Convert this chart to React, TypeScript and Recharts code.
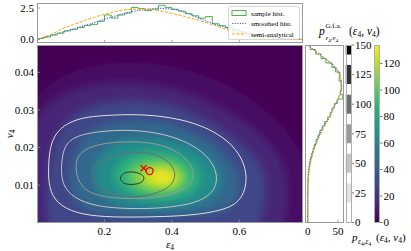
import React from "react";
import { ComposedChart, Line, Scatter, XAxis, YAxis, Curve } from "recharts";

const FONT = '"Liberation Serif", "DejaVu Serif", serif';
const TICK = "#8a8a8a";
const FRAME = "#9a9a9a";
const GREEN = "#4caf50";
const BLUE = "#4169e1";
const ORANGE = "#ffa500";

const E_MAX = 0.789;
const V_MAX = 0.0473;
const HEAT_MAX = 134;

const epsTicks = [0.2, 0.4, 0.6];
const vTicks = [0.01, 0.02, 0.03, 0.04];
const topTicks = [0, 2.5];
const rightTicks = [0, 50];
const gfaTicks = [0, 25, 50, 75, 100, 125, 150];
const heatTicks = [0, 20, 40, 60, 80, 100, 120];
const seriesNames = ["sample hist.", "smoothed hist.", "semi-analytical"];

// top marginal (eps_4)
const topHistE = [0, 0.02, 0.04, 0.06, 0.08, 0.1, 0.12, 0.14, 0.16, 0.18, 0.2, 0.22, 0.24, 0.26, 0.28, 0.3, 0.32, 0.34, 0.36, 0.38, 0.4, 0.42, 0.44, 0.46, 0.48, 0.5, 0.52, 0.54, 0.56, 0.58, 0.6, 0.62, 0.64, 0.66, 0.68, 0.7, 0.72, 0.74, 0.76, 0.78];
const topHistD = [0.08, 0.2, 0.35, 0.5, 0.68, 0.8, 0.95, 1.12, 1.2, 1.45, 1.95, 1.7, 1.95, 2.1, 2.55, 2.45, 2.3, 2.4, 2.72, 2.55, 2.4, 2.25, 2.05, 1.88, 1.7, 1.82, 1.25, 1.1, 0.95, 0.78, 0.6, 0.48, 0.35, 0.25, 0.18, 0.12, 0.08, 0.05, 0.03, 0.01];
const topCurveE = [0, 0.04, 0.08, 0.12, 0.16, 0.2, 0.24, 0.28, 0.32, 0.36, 0.4, 0.44, 0.48, 0.52, 0.56, 0.6, 0.64, 0.68, 0.72, 0.76, 0.789];
const topSmoothD = [0, 0.3, 0.62, 0.93, 1.25, 1.6, 1.92, 2.2, 2.38, 2.47, 2.42, 2.14, 1.7, 1.28, 0.95, 0.62, 0.4, 0.22, 0.09, 0.03, 0.01];
const topSemiD = [0, 0.38, 0.9, 1.3, 1.68, 2.0, 2.27, 2.4, 2.42, 2.3, 2.08, 1.82, 1.52, 1.18, 0.82, 0.47, 0.2, 0.05, 0.01, 0, 0];

// right marginal (v_4)
const rightHistV = [0, 0.0012, 0.0024, 0.0036, 0.0048, 0.006, 0.0072, 0.0084, 0.0096, 0.0108, 0.012, 0.0132, 0.0144, 0.0156, 0.0168, 0.018, 0.0192, 0.0204, 0.0216, 0.0228, 0.024, 0.0252, 0.0264, 0.0276, 0.0288, 0.03, 0.0312, 0.0324, 0.0336, 0.0348, 0.036, 0.0372, 0.0384, 0.0396, 0.0408, 0.042, 0.0432, 0.0444, 0.0456];
const rightHistD = [4, 13, 22, 30, 40, 46, 53, 52, 55, 56, 54, 58, 49, 44, 40, 37, 33, 28, 24, 20, 17, 14, 11, 9, 7, 5, 3.5, 2.5, 1.5, 1, 0.5, 0.3, 0.2, 0.1, 0.1, 0, 0, 0, 0];
const rightCurveV = [0, 0.001, 0.002, 0.003, 0.004, 0.005, 0.006, 0.007, 0.008, 0.009, 0.01, 0.011, 0.012, 0.013, 0.014, 0.015, 0.016, 0.017, 0.018, 0.019, 0.02, 0.021, 0.022, 0.023, 0.024, 0.025, 0.026, 0.027, 0.028, 0.03, 0.032, 0.034, 0.036, 0.04, 0.0473];
const rightSmoothD = [0, 8, 16, 24, 32, 40, 46, 50.5, 53, 54.5, 55.5, 56, 55.5, 54, 51.5, 48.5, 45, 42, 39.5, 37, 33, 29, 25, 22, 19, 16, 14, 11.5, 9, 5, 2.5, 1, 0.3, 0, 0];
const rightSemiD = [0, 7, 15, 23, 31, 38, 44, 49, 52.5, 54.5, 55.3, 55.3, 54.5, 53, 50.8, 48, 45, 42, 39, 36, 33, 30, 26.5, 23.5, 20.5, 17.5, 15, 12.5, 10.2, 6.5, 3.8, 2, 0.9, 0.1, 0];

// sample density: iso-density outlines, [eps, v]
const heatLevels = [6, 15, 28, 45, 65, 85, 105, 120, 132];
const heatShapes = [
  [[-0.05, 0.012], [-0.04, 0.032], [0.1, 0.0415], [0.3, 0.0435], [0.5, 0.04], [0.66, 0.032], [0.77, 0.022], [0.83, 0.01], [0.83, -0.01], [0.4, -0.012], [-0.05, -0.01]],
  [[-0.03, 0.012], [-0.02, 0.026], [0.05, 0.034], [0.18, 0.0375], [0.33, 0.0375], [0.48, 0.034], [0.62, 0.027], [0.72, 0.019], [0.75, 0.01], [0.74, 0.0], [0.7, -0.008], [0.3, -0.01], [-0.03, -0.008]],
  [[0.03, 0.012], [0.045, 0.022], [0.1, 0.029], [0.2, 0.0325], [0.33, 0.033], [0.47, 0.0295], [0.58, 0.023], [0.66, 0.017], [0.685, 0.01], [0.67, 0.002], [0.64, -0.006], [0.3, -0.008], [0.04, -0.006], [0.025, 0.004]],
  [[0.09, 0.012], [0.11, 0.02], [0.16, 0.025], [0.25, 0.0275], [0.36, 0.0275], [0.47, 0.0245], [0.56, 0.019], [0.61, 0.012], [0.6, 0.006], [0.55, 0.0025], [0.45, 0.0015], [0.3, 0.0013], [0.17, 0.002], [0.11, 0.005]],
  [[0.16, 0.012], [0.18, 0.018], [0.23, 0.0215], [0.31, 0.0228], [0.4, 0.0222], [0.48, 0.0195], [0.535, 0.0155], [0.55, 0.011], [0.525, 0.0065], [0.46, 0.004], [0.36, 0.0036], [0.26, 0.004], [0.19, 0.0065]],
  [[0.22, 0.012], [0.24, 0.016], [0.29, 0.0188], [0.36, 0.0193], [0.43, 0.0178], [0.475, 0.015], [0.49, 0.0115], [0.47, 0.008], [0.41, 0.006], [0.33, 0.0058], [0.26, 0.0075]],
  [[0.26, 0.012], [0.28, 0.015], [0.33, 0.0168], [0.39, 0.0167], [0.435, 0.0148], [0.45, 0.0118], [0.43, 0.0088], [0.37, 0.0077], [0.3, 0.0085]],
  [[0.3, 0.012], [0.32, 0.0142], [0.36, 0.0151], [0.405, 0.0143], [0.43, 0.0122], [0.415, 0.0098], [0.37, 0.0092], [0.32, 0.0098]],
  [[0.33, 0.012], [0.35, 0.0136], [0.38, 0.014], [0.405, 0.0128], [0.41, 0.0112], [0.38, 0.0103], [0.35, 0.0105]],
];

// G.f.a. contour lines
const gfaShapes = [
  [[0.034, 0.0105], [0.034, 0.0149], [0.037, 0.019], [0.049, 0.0229], [0.079, 0.026], [0.128, 0.0278], [0.177, 0.0284], [0.276, 0.0289], [0.375, 0.0284], [0.474, 0.0265], [0.553, 0.0229], [0.602, 0.0184], [0.624, 0.0131], [0.617, 0.0078], [0.582, 0.0038], [0.474, 0.002], [0.375, 0.00155], [0.276, 0.0014], [0.177, 0.00155], [0.098, 0.0029], [0.049, 0.006]],
  [[0.071, 0.014], [0.076, 0.0185], [0.089, 0.0214], [0.128, 0.0236], [0.227, 0.0247], [0.326, 0.0245], [0.424, 0.0225], [0.503, 0.0184], [0.538, 0.0131], [0.528, 0.0082], [0.474, 0.0051], [0.375, 0.0038], [0.276, 0.0036], [0.177, 0.0042], [0.108, 0.0065], [0.076, 0.01]],
  [[0.113, 0.014], [0.118, 0.0176], [0.15, 0.02], [0.2, 0.0211], [0.256, 0.0216], [0.335, 0.0214], [0.404, 0.0198], [0.454, 0.0162], [0.469, 0.0127], [0.449, 0.0091], [0.375, 0.0067], [0.276, 0.0062], [0.177, 0.0069], [0.128, 0.0095]],
  [[0.163, 0.0131], [0.172, 0.0158], [0.227, 0.018], [0.286, 0.0189], [0.345, 0.0185], [0.395, 0.0162], [0.415, 0.0127], [0.395, 0.0091], [0.326, 0.0069], [0.256, 0.0067], [0.192, 0.0087], [0.167, 0.0109]],
  [[0.246, 0.0122], [0.258, 0.0133], [0.281, 0.0136], [0.308, 0.0131], [0.32, 0.012], [0.313, 0.0107], [0.291, 0.0101], [0.264, 0.0101], [0.249, 0.0109]],
];
// colorbar of the contour levels: level, band half-width
const gfaBandLevels = [0, 25, 50, 75, 100, 125, 150];
const gfaBandHalf = 8;
const grays = ["#ffffff", "#e2e2e2", "#c4c4c4", "#9a9a9a", "#6e6e6e", "#333333", "#000000"];

const crossPt = [{ x: 0.316, y: 0.01445 }];
const circlePt = [{ x: 0.334, y: 0.0137 }];

const VIRIDIS = ["#440154", "#482475", "#414487", "#355f8d", "#2a788e", "#21918c", "#22a884", "#44bf70", "#7ad151", "#bddf26", "#fde725"];
function viridis(t: number) {
  const c = Math.max(0, Math.min(1, t)) * 10;
  const i = Math.min(9, Math.floor(c));
  const f = c - i;
  const a = VIRIDIS[i], b = VIRIDIS[i + 1];
  const ch = (s: string, k: number) => parseInt(s.slice(1 + 2 * k, 3 + 2 * k), 16);
  const out = [0, 1, 2].map((k) => Math.round(ch(a, k) + (ch(b, k) - ch(a, k)) * f).toString(16).padStart(2, "0"));
  return "#" + out.join("");
}

const pairs = (p: number[][]) => p.map(([x, y]) => ({ x, y }));
const band = (lo: number, hi: number) => [{ x: 0, y: lo }, { x: 1, y: lo }, { x: 1, y: hi }, { x: 0, y: hi }];
const topHist = [{ e: 0, d: 0 }, ...topHistE.map((e, i) => ({ e, d: topHistD[i] })), { e: E_MAX, d: topHistD[topHistD.length - 1] }, { e: E_MAX, d: 0 }];
const topSmooth = topCurveE.map((e, i) => ({ e, d: topSmoothD[i] }));
const topSemi = topCurveE.map((e, i) => ({ e, d: topSemiD[i] }));
const rightHist = [{ v: 0, d: 0 }, ...rightHistV.map((v, i) => ({ v, d: rightHistD[i] })), { v: 0.0468, d: 0 }];
const rightSmooth = rightCurveV.map((v, i) => ({ v, d: rightSmoothD[i] }));
const rightSemi = rightCurveV.map((v, i) => ({ v, d: rightSemiD[i] }));

const Blank = () => <g />;

const BottomTick = (p: any) => (
  <g>
    <line x1={p.x} y1={p.y} x2={p.x} y2={p.y - 3} stroke={TICK} strokeWidth={0.8} />
    {p.fmt && (
      <text x={p.x} y={p.y + 12} textAnchor="middle" fontSize={11} fontFamily={FONT} fill="#000">
        {p.fmt(p.payload.value)}
      </text>
    )}
  </g>
);
const LeftTick = (p: any) => (
  <g>
    <line x1={p.x} y1={p.y} x2={p.x + 3} y2={p.y} stroke={TICK} strokeWidth={0.8} />
    {p.fmt && (
      <text x={p.x - 3} y={p.y} dy="0.35em" textAnchor="end" fontSize={11} fontFamily={FONT} fill="#000">
        {p.fmt(p.payload.value)}
      </text>
    )}
  </g>
);
const RightTick = (p: any) => (
  <g>
    <line x1={p.x} y1={p.y} x2={p.x + 2.5} y2={p.y} stroke="#555" strokeWidth={0.8} />
    <text x={p.x + 3.5} y={p.y} dy="0.35em" textAnchor="start" fontSize={11} fontFamily={FONT} fill="#000">
      {p.payload.value}
    </text>
  </g>
);

const box = (left: number, top: number, width: number, height: number, color = FRAME): React.CSSProperties => ({
  position: "absolute", left, top, width, height, border: `1px solid ${color}`, boxSizing: "border-box", pointerEvents: "none",
});

const Sub = ({ children, size = 7.5 }: any) => <tspan fontSize={size} fontStyle="normal" dy={2.2}>{children}</tspan>;

const Colorbar = ({ left, width, marginLeft, max, ticks, children }: any) => (
  <div style={{ position: "absolute", left, top: 0 }}>
    <ComposedChart width={width} height={251} margin={{ top: 45, right: width - marginLeft - 6 - 20, bottom: 28.5, left: marginLeft }}>
      <XAxis type="number" dataKey="x" domain={[0, 1]} allowDataOverflow hide />
      <YAxis type="number" dataKey="y" orientation="right" domain={[0, max]} allowDataOverflow ticks={ticks} interval={0} width={20} tickSize={0} tickMargin={0} axisLine={false}
        tick={(p: any) => <RightTick {...p} />} />
      {children}
    </ComposedChart>
  </div>
);

export default function App() {
  return (
    <div style={{ position: "fixed", left: 0, top: 0, width: 411, height: 251, background: "#fff", fontFamily: FONT, overflow: "hidden" }}>
      <svg width={0} height={0} style={{ position: "absolute" }}>
        <defs>
          <filter id="heatBlur" filterUnits="userSpaceOnUse" x={-100} y={-100} width={600} height={500}>
            <feGaussianBlur stdDeviation={4} />
          </filter>
          <linearGradient id="viridisGrad" x1="0" y1="1" x2="0" y2="0">
            {VIRIDIS.map((c, i) => <stop key={i} offset={`${i * 10}%`} stopColor={c} />)}
          </linearGradient>
        </defs>
      </svg>

      <div style={{ position: "absolute", left: 37, top: 45, width: 266, height: 177.5, background: VIRIDIS[0] }} />

      {/* main joint density */}
      <div style={{ position: "absolute", left: 0, top: 0 }}>
        <ComposedChart width={311} height={251} margin={{ top: 45, right: 8, bottom: 8.5, left: 7 }}>
          <XAxis type="number" dataKey="x" domain={[0, E_MAX]} allowDataOverflow ticks={epsTicks} interval={0} height={20} tickSize={0} tickMargin={0} axisLine={false}
            tick={(p: any) => <BottomTick {...p} fmt={(v: number) => v.toFixed(1)} />} />
          <YAxis type="number" dataKey="y" domain={[0, V_MAX]} allowDataOverflow ticks={vTicks} interval={0} width={30} tickSize={0} tickMargin={0} axisLine={false}
            tick={(p: any) => <LeftTick {...p} fmt={(v: number) => v.toFixed(2)} />} />
          {heatShapes.map((s, i) => (
            <Scatter key={"h" + i} data={pairs(s)} shape={Blank} isAnimationActive={false}
              line={(lp: any) => (
                <g filter="url(#heatBlur)">
                  <Curve points={lp.points} type="basisClosed" fill={viridis(heatLevels[i] / HEAT_MAX)} stroke="none" />
                </g>
              )} />
          ))}
          {gfaShapes.map((s, i) => (
            <Scatter key={"c" + i} data={pairs(s)} shape={Blank} isAnimationActive={false}
              line={(lp: any) => <Curve points={lp.points} type="basisClosed" fill="none" stroke={grays[i + 1]} strokeWidth={1} />} />
          ))}
          <Scatter data={crossPt} isAnimationActive={false}
            shape={(p: any) => (
              <g stroke="#ff0000" strokeWidth={1.4}>
                <line x1={p.cx - 3} y1={p.cy - 3} x2={p.cx + 3} y2={p.cy + 3} />
                <line x1={p.cx - 3} y1={p.cy + 3} x2={p.cx + 3} y2={p.cy - 3} />
              </g>
            )} />
          <Scatter data={circlePt} isAnimationActive={false}
            shape={(p: any) => <circle cx={p.cx} cy={p.cy} r={3.5} fill="none" stroke="#ff0000" strokeWidth={1.4} />} />
        </ComposedChart>
      </div>

      {/* top marginal */}
      <div style={{ position: "absolute", left: 0, top: 0 }}>
        <ComposedChart width={311} height={51} margin={{ top: 3, right: 8, bottom: 0, left: 7 }}>
          <XAxis type="number" dataKey="e" domain={[0, E_MAX]} allowDataOverflow ticks={epsTicks} interval={0} height={8} tickSize={0} tickMargin={0} axisLine={false}
            tick={(p: any) => <BottomTick {...p} />} />
          <YAxis type="number" domain={[-0.28, 2.9]} allowDataOverflow ticks={topTicks} interval={0} width={30} tickSize={0} tickMargin={0} axisLine={false}
            tick={(p: any) => <LeftTick {...p} fmt={(v: number) => v.toFixed(1)} />} />
          <Line data={topHist} dataKey="d" type="stepAfter" stroke={GREEN} strokeWidth={1} dot={false} isAnimationActive={false} />
          <Line data={topSmooth} dataKey="d" type="monotone" stroke={BLUE} strokeWidth={1.2} strokeDasharray="1.2 1.4" dot={false} isAnimationActive={false} />
          <Line data={topSemi} dataKey="d" type="monotone" stroke={ORANGE} strokeWidth={1} strokeDasharray="3 1.6" dot={false} isAnimationActive={false} />
        </ComposedChart>
      </div>

      {/* right marginal */}
      <div style={{ position: "absolute", left: 300, top: 0 }}>
        <ComposedChart layout="vertical" width={50} height={251} margin={{ top: 45, right: 6, bottom: 8.5, left: 5 }}>
          <XAxis type="number" domain={[-4.5, 60]} allowDataOverflow ticks={rightTicks} interval={0} height={20} tickSize={0} tickMargin={0} axisLine={false}
            tick={(p: any) => <BottomTick {...p} fmt={(v: number) => String(v)} />} />
          <YAxis type="number" dataKey="v" domain={[0, V_MAX]} allowDataOverflow ticks={vTicks} interval={0} width={0} tickSize={0} tickMargin={0} axisLine={false}
            tick={(p: any) => <LeftTick {...p} />} />
          <Line data={rightHist} dataKey="d" type="stepBefore" stroke={GREEN} strokeWidth={1} dot={false} isAnimationActive={false} />
          <Line data={rightSmooth} dataKey="d" type="monotone" stroke={BLUE} strokeWidth={1.2} strokeDasharray="1.2 1.4" dot={false} isAnimationActive={false} />
          <Line data={rightSemi} dataKey="d" type="monotone" stroke={ORANGE} strokeWidth={1} strokeDasharray="3 1.6" dot={false} isAnimationActive={false} />
        </ComposedChart>
      </div>

      {/* G.f.a. colorbar */}
      <Colorbar left={340} width={45.5} marginLeft={5.5} max={150} ticks={gfaTicks}>
        {gfaBandLevels.map((l, i) => (
          <Scatter key={l} data={band(Math.max(0, l - gfaBandHalf), Math.min(150, l + gfaBandHalf))} shape={Blank} isAnimationActive={false}
            line={(lp: any) => <Curve points={lp.points} type="linearClosed" fill={grays[i]} stroke="none" />} />
        ))}
      </Colorbar>

      {/* density colorbar */}
      <Colorbar left={368} width={43} marginLeft={6} max={HEAT_MAX} ticks={heatTicks}>
        <Scatter data={band(0, HEAT_MAX)} shape={Blank} isAnimationActive={false}
          line={(lp: any) => <Curve points={lp.points} type="linearClosed" fill="url(#viridisGrad)" stroke="none" />} />
      </Colorbar>

      {/* frames */}
      <div style={box(37, 3, 266, 40)} />
      <div style={box(37, 45, 266, 177.5)} />
      <div style={box(305, 45, 39, 177.5)} />
      <div style={box(345.5, 45, 6, 177.5, "#b0b0b0")} />
      <div style={box(374, 45, 6, 177.5, "#b0b0b0")} />

      {/* legend + labels */}
      <svg width={411} height={251} style={{ position: "absolute", left: 0, top: 0, pointerEvents: "none" }} fontFamily={FONT}>
        <rect x={228.5} y={6.5} width={71} height={33} rx={2} fill="#fff" fillOpacity={0.8} stroke="#cccccc" strokeWidth={0.8} />
        {seriesNames.map((n, i) => {
          const y = 13 + i * 10.5;
          return (
            <g key={n}>
              {i === 0 && <rect x={232} y={y - 2.5} width={14} height={5} fill="none" stroke={GREEN} strokeWidth={1} />}
              {i === 1 && <line x1={232} y1={y} x2={246} y2={y} stroke={BLUE} strokeWidth={1.2} strokeDasharray="1.2 1.4" />}
              {i === 2 && <line x1={232} y1={y} x2={246} y2={y} stroke={ORANGE} strokeWidth={1} strokeDasharray="3 1.6" />}
              <text x={251} y={y + 2.5} fontSize={7} fill="#000">{n}</text>
            </g>
          );
        })}

        <text x={170} y={248} textAnchor="middle" fontSize={11} fontStyle="italic">ε<Sub>4</Sub></text>
        <text transform="translate(13,134) rotate(-90)" textAnchor="middle" fontSize={11} fontStyle="italic">v<Sub>4</Sub></text>

        <text x={319} y={35} fontSize={11.5} fontStyle="italic">p</text>
        <text x={325.5} y={28} fontSize={7}>G.f.a.</text>
        <text x={325.5} y={39.5} fontSize={7} fontStyle="italic">ε<Sub size={5}>4</Sub><tspan dy={-2.2}>,v</tspan><Sub size={5}>4</Sub></text>
        <text x={349} y={35} fontSize={11.5}>(<tspan fontStyle="italic">ε</tspan><Sub>4</Sub><tspan dy={-2.2}>, </tspan><tspan fontStyle="italic">v</tspan><Sub>4</Sub><tspan dy={-2.2}>)</tspan></text>

        <text x={352} y={241} fontSize={11} fontStyle="italic">p</text>
        <text x={358} y={244} fontSize={7.5} fontStyle="italic">ε<Sub size={5.5}>4</Sub><tspan dy={-2.2}>,ε</tspan><Sub size={5.5}>4</Sub></text>
        <text x={376} y={241} fontSize={11}>(<tspan fontStyle="italic">ε</tspan><Sub>4</Sub><tspan dy={-2.2}>, </tspan><tspan fontStyle="italic">v</tspan><Sub>4</Sub><tspan dy={-2.2}>)</tspan></text>
      </svg>
    </div>
  );
}
